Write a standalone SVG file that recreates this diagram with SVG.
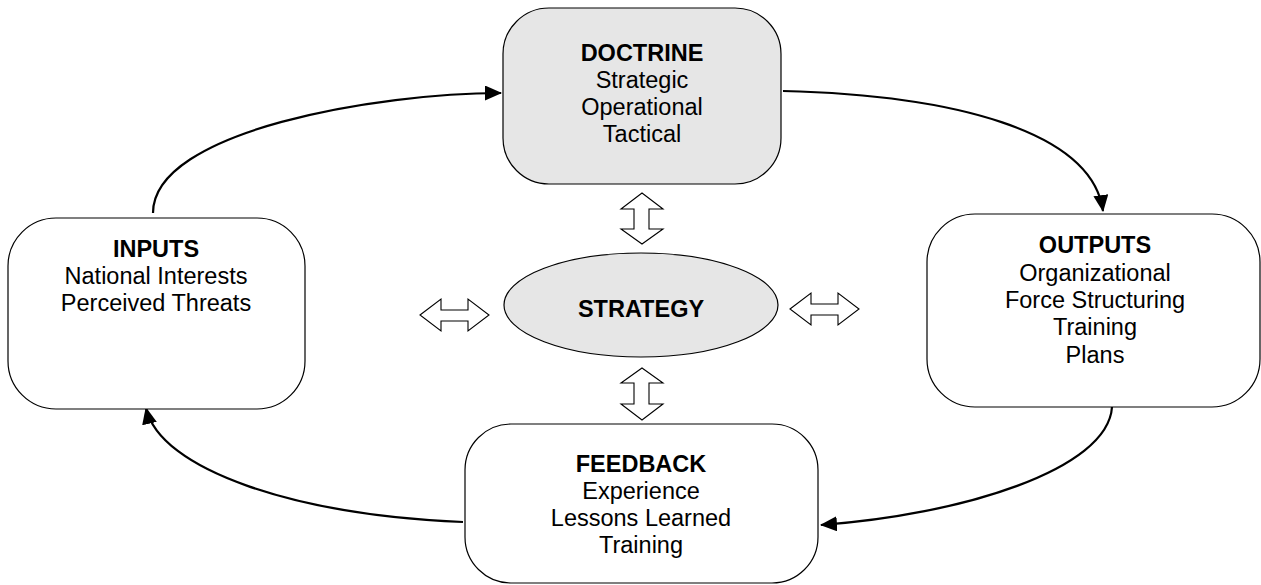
<svg xmlns="http://www.w3.org/2000/svg" width="1261" height="585" viewBox="0 0 1261 585">
<style>
.box{fill:#fff;stroke:#000;stroke-width:1.2}
.gray{fill:#e6e6e6}
.t{font-family:"Liberation Sans",Arial,sans-serif;font-size:23.5px;fill:#000;text-anchor:middle}
.b{font-weight:bold}
.con{fill:none;stroke:#000;stroke-width:2.2}
.dbl{fill:#fff;stroke:#000;stroke-width:1.1;stroke-linejoin:miter}
</style>
<defs>
<marker id="ah" viewBox="0 0 17 15" refX="16" refY="7.5" markerWidth="17" markerHeight="15" markerUnits="userSpaceOnUse" orient="auto">
<path d="M0,0 L17,7.5 L0,15 Z" fill="#000"/>
</marker>
</defs>
<rect width="1261" height="585" fill="#fff"/>
<g id="connectors">
<path class="con" d="M153,213 C153,130 380,93 501,93" marker-end="url(#ah)"/>
<path class="con" d="M783,91 C950,95 1092,130 1103,211" marker-end="url(#ah)"/>
<path class="con" d="M1112,407 C1108,470 960,515 821,525" marker-end="url(#ah)"/>
<path class="con" d="M463,522 C295,515 160,470 146,408" marker-end="url(#ah)"/>
<path class="dbl" d="M642,193 L663,209 L649,209 L649,229 L663,229 L642,244 L621,229 L634,229 L634,209 L621,209 Z"/>
<path class="dbl" d="M642,368 L663,383 L649,383 L649,404 L663,404 L642,420 L621,404 L634,404 L634,383 L621,383 Z"/>
<path class="dbl" d="M420,315 L441,299 L441,310 L468,310 L468,299 L489,315 L468,331 L468,321 L441,321 L441,331 Z"/>
<path class="dbl" d="M790,309 L811,293 L811,304 L838,304 L838,293 L859,309 L838,325 L838,315 L811,315 L811,325 Z"/>
</g>
<g id="doctrine">
<rect class="box gray" x="503" y="8" width="278" height="176" rx="46" ry="46"/>
<text class="t b" x="642" y="61">DOCTRINE</text>
<text class="t" x="642" y="88">Strategic</text>
<text class="t" x="642" y="115">Operational</text>
<text class="t" x="642" y="142">Tactical</text>
</g>
<g id="inputs">
<rect class="box" x="8" y="218" width="297" height="191" rx="48" ry="48"/>
<text class="t b" x="156" y="257">INPUTS</text>
<text class="t" x="156" y="284">National Interests</text>
<text class="t" x="156" y="311">Perceived Threats</text>
</g>
<g id="outputs">
<rect class="box" x="927" y="214" width="333" height="193" rx="48" ry="48"/>
<text class="t b" x="1095" y="253">OUTPUTS</text>
<text class="t" x="1095" y="281">Organizational</text>
<text class="t" x="1095" y="308">Force Structuring</text>
<text class="t" x="1095" y="335">Training</text>
<text class="t" x="1095" y="363">Plans</text>
</g>
<g id="feedback">
<rect class="box" x="465" y="424" width="353" height="159" rx="46" ry="46"/>
<text class="t b" x="641" y="472">FEEDBACK</text>
<text class="t" x="641" y="499">Experience</text>
<text class="t" x="641" y="526">Lessons Learned</text>
<text class="t" x="641" y="553">Training</text>
</g>
<g id="strategy">
<ellipse class="box gray" cx="641" cy="305" rx="137" ry="52"/>
<text class="t b" x="641" y="317">STRATEGY</text>
</g>
</svg>
